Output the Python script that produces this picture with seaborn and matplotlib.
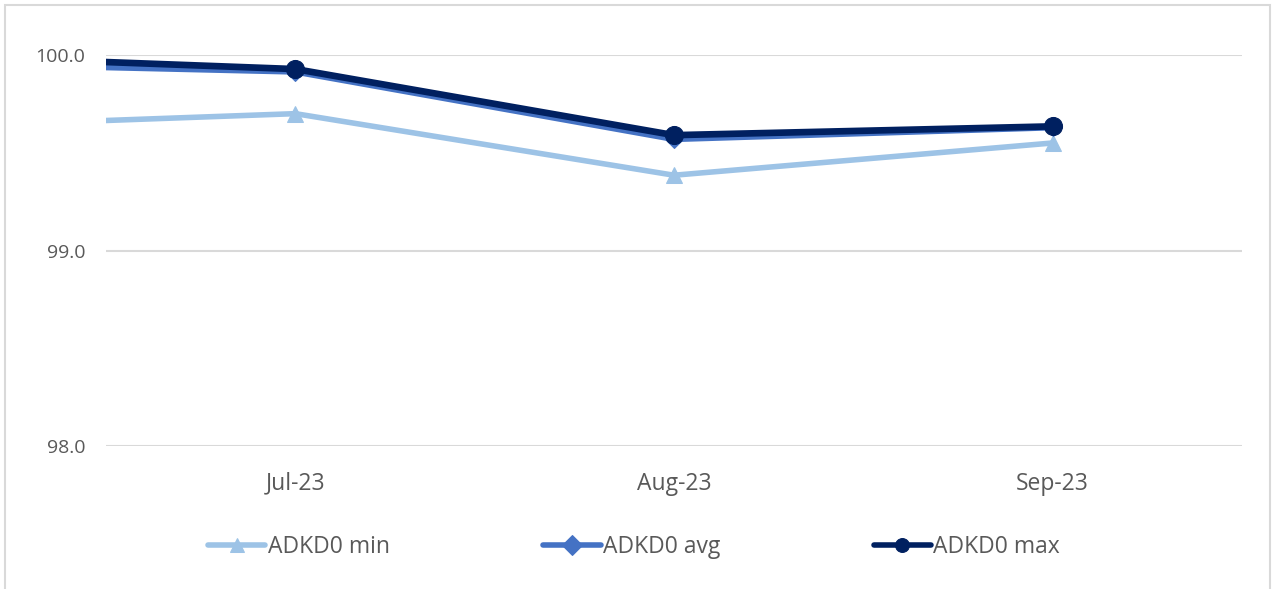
import matplotlib
matplotlib.use("Agg")
import matplotlib.pyplot as plt
import seaborn as sns
import pandas as pd
from matplotlib.patches import Rectangle

# ================= DATOS =================
meses = ["Jun-23", "Jul-23", "Aug-23", "Sep-23"]
adkd0_min = [99.63, 99.70, 99.385, 99.55]
adkd0_avg = [99.96, 99.915, 99.57, 99.63]
adkd0_max = [100.00, 99.928, 99.59, 99.635]
series = ["ADKD0 min", "ADKD0 avg", "ADKD0 max"]
ticks_y = [98.0, 99.0, 100.0]

# estilo tipo Excel
COLORES = {"ADKD0 min": "#9DC3E6", "ADKD0 avg": "#4472C4", "ADKD0 max": "#002060"}
MARCAS = {"ADKD0 min": "^", "ADKD0 avg": "D", "ADKD0 max": "o"}
TAMANOS = {"ADKD0 min": 12, "ADKD0 avg": 9, "ADKD0 max": 13}
GROSOR = {"ADKD0 min": 4.0, "ADKD0 avg": 4.5, "ADKD0 max": 4.8}
GRIS_TXT = "#595959"

df = pd.DataFrame({"Mes": meses, "ADKD0 min": adkd0_min,
                   "ADKD0 avg": adkd0_avg, "ADKD0 max": adkd0_max})
df["pos"] = range(len(df))

sns.set_style("white")
plt.rcParams["font.family"] = ["Open Sans", "DejaVu Sans"]

fig = plt.figure(figsize=(12.76, 5.89), dpi=100)
W, H = 1276, 589
ax = fig.add_axes([106 / W, 1 - 446 / H, (1242 - 106) / W, (446 - 55) / H])

# borde del gráfico
fig.patches.append(Rectangle((5 / W, -0.05), (1270 - 5) / W, (H - 5) / H + 0.05,
                             transform=fig.transFigure, fill=False,
                             edgecolor="#D9D9D9", linewidth=1.5))

for s in series:
    sns.lineplot(data=df, x="pos", y=s, ax=ax, color=COLORES[s], linewidth=GROSOR[s],
                 marker=MARCAS[s], markersize=TAMANOS[s], markeredgecolor=COLORES[s],
                 label=s, legend=False)
    # el primer punto (fuera de la vista) no lleva marcador
    ax.lines[-1].set_markevery(list(range(1, len(df))))

ax.set_xlim(0.5, 3.5)
ax.set_ylim(98.0, 100.0)
ax.set_yticks(ticks_y)
ax.set_yticklabels([f"{v:.1f}" for v in ticks_y])
ax.set_xticks(df["pos"][1:])
ax.set_xticklabels(df["Mes"][1:])
ax.set_xlabel("")
ax.set_ylabel("")
ax.grid(axis="y", color="#D9D9D9", linewidth=1.5)
ax.set_axisbelow(True)
for sp in ax.spines.values():
    sp.set_visible(False)
ax.tick_params(axis="y", length=0, pad=15, labelsize=14, labelcolor=GRIS_TXT)
ax.tick_params(axis="x", length=0, pad=18.5, labelsize=16.5, labelcolor=GRIS_TXT)

handles = [ax.lines[i] for i in range(3)]
leg = fig.legend(handles, series, loc="center", bbox_to_anchor=(0.497, 1 - 547 / H),
                 ncol=3, frameon=False, fontsize=16.5, handlelength=2.5,
                 handletextpad=0.1, columnspacing=6.7)
for h in leg.legend_handles:
    h.set_markersize(10)
    h.set_linewidth(4)
for t in leg.get_texts():
    t.set_color(GRIS_TXT)

fig.savefig("out.png", dpi=100)
